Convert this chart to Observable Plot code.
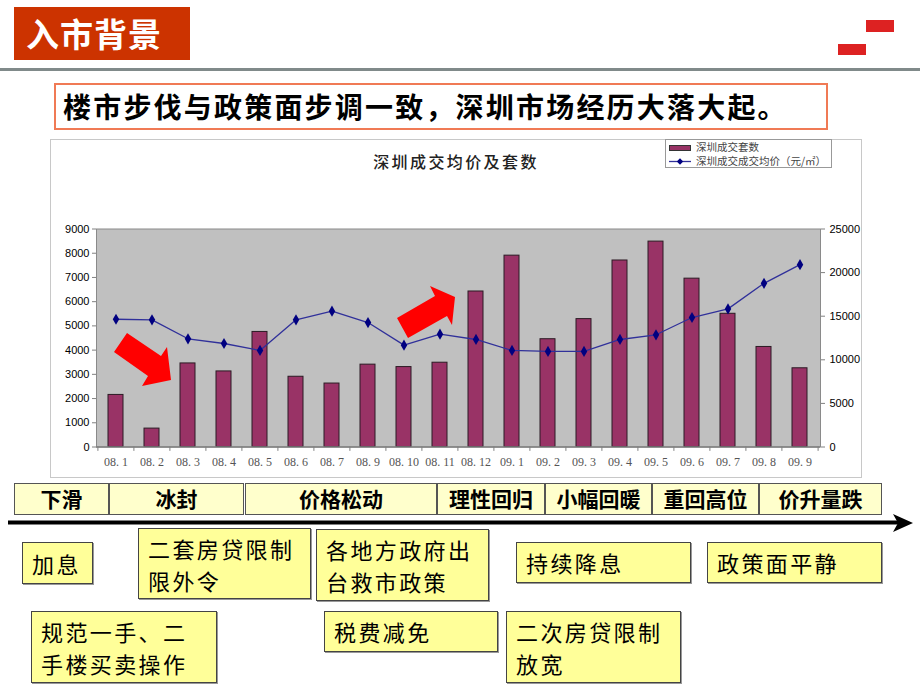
<!DOCTYPE html>
<html><head><meta charset="utf-8">
<script src="https://cdn.jsdelivr.net/npm/d3@7"></script>
<script src="https://cdn.jsdelivr.net/npm/@observablehq/plot@0.6"></script>
<style>
body{margin:0;background:#fff;font-family:"Noto Sans CJK SC","Noto Sans",sans-serif;}
#page{position:relative;width:920px;height:690px;overflow:hidden;background:#fff;}
.abs{position:absolute;box-sizing:border-box;}
#hdr{left:14px;top:7px;width:176px;height:53px;background:#cc3300;color:#fff;font-size:33px;font-weight:700;line-height:53px;padding-left:12px;letter-spacing:1px;}
#hline{left:0;top:68px;width:920px;height:3px;background:#808a8a;}
.sq{background:#dd2222;}
#sub{left:54px;top:83px;width:774px;height:47px;border:2px solid #f07a55;font-size:28px;font-weight:700;line-height:43px;padding-left:7px;letter-spacing:2.2px;color:#000;white-space:nowrap;}
#frame{left:50px;top:139px;width:812px;height:339px;border:1.5px solid #c8c8c8;}
#chart{left:50px;top:139px;}
#ctitle{left:300px;top:150px;width:312px;text-align:center;font-size:16px;font-weight:500;letter-spacing:2.4px;color:#222;line-height:22px;}
#legend{left:665px;top:139px;width:167px;height:29px;border:1px solid #999;background:#fff;font-size:10.5px;color:#444;}
.phase{top:483px;height:32px;background:#ffffcc;border:1.5px solid #555;font-size:21px;font-weight:700;text-align:center;line-height:29px;color:#000;}
.note{background:#ffff99;border:1.5px solid #444;font-size:22px;padding:3px 0 0 9px;letter-spacing:2.4px;color:#000;white-space:nowrap;box-shadow:1px 1px 0 #999;}
.note div{height:32px;line-height:32px;}
</style></head><body><div id="page"></div>
<script>
// ---- chart data ----
const months = ["08. 1","08. 2","08. 3","08. 4","08. 5","08. 6","08. 7","08. 9","08. 10","08. 11","08. 12","09. 1","09. 2","09. 3","09. 4","09. 5","09. 6","09. 7","09. 8","09. 9"];
const units  = [2150, 760, 3450, 3120, 4750, 2900, 2620, 3400, 3300, 3480, 6420, 7900, 4450, 5280, 7700, 8480, 6950, 5500, 4130, 3250];
const prices = [14650, 14580, 12410, 11870, 11070, 14580, 15570, 14270, 11680, 12940, 12330, 11070, 10960, 10960, 12330, 12870, 14850, 15840, 18770, 20910];
const leftTicks  = [0,1000,2000,3000,4000,5000,6000,7000,8000,9000];
const rightTicks = [0,5000,10000,15000,20000,25000];
const chartTitle = "深圳成交均价及套数";
const seriesNames = ["深圳成交套数","深圳成交成交均价（元/㎡）"];

// ---- slide text ----
const headerText = "入市背景";
const subtitleText = "楼市步伐与政策面步调一致，深圳市场经历大落大起。";
const phases = ["下滑","冰封","价格松动","理性回归","小幅回暖","重回高位","价升量跌"];
const notes = [["加息"],["二套房贷限制","限外令"],["各地方政府出","台救市政策"],["持续降息"],["政策面平静"],["规范一手、二","手楼买卖操作"],["税费减免"],["二次房贷限制","放宽"]];

// ---- layout (positions only) ----
const phaseX = [[14,109],[109,244],[245,437],[437,545],[545,652],[652,759],[759,882]];
const noteBox = [[22,542,71,42],[138,528,173,71],[316,529,173,72],[516,542,175,41],[707,542,175,41],[31,611,186,72],[324,611,174,41],[506,611,175,72]];

const page = document.getElementById("page");
function el(cls, id, css, html){const d=document.createElement("div");d.className="abs "+(cls||"");if(id)d.id=id;if(css)d.style.cssText=css;if(html!=null)d.innerHTML=html;page.appendChild(d);return d;}

el("", "hdr", null, headerText);
el("", "hline");
el("sq", null, "left:866px;top:20px;width:28px;height:12px;");
el("sq", null, "left:838px;top:44px;width:28px;height:11px;");
el("", "sub", null, subtitleText);
el("", "frame");

// ---- Plot chart ----
const k = 9000/25000;
const data = months.map((m,i)=>({month:m, units:units[i], price:prices[i]}));
const step = 724/months.length;
const chart = Plot.plot({
  width:812, height:339,
  marginLeft:46, marginRight:42, marginTop:89.5, marginBottom:31.5,
  style:{background:"transparent", overflow:"visible", fontFamily:"'Liberation Sans', Arial, sans-serif", color:"#000"},
  x:{domain:months, paddingInner:0.58, paddingOuter:0.29, axis:null, label:null},
  y:{domain:[0,9000], axis:null, label:null},
  marks:[
    Plot.frame({fill:"#c0c0c0", stroke:"#8a8a8a"}),
    Plot.barY(data,{x:"month", y:"units", fill:"#993366", stroke:"#2b1b24", strokeWidth:1}),
    Plot.line(data,{x:"month", y:d=>d.price*k, stroke:"#30309a", strokeWidth:1.3}),
    Plot.dot(data,{x:"month", y:d=>d.price*k, symbol:"diamond", r:3.4, fill:"#000080", stroke:"none"}),
    Plot.ruleY([0],{stroke:"#808080", strokeWidth:1.5}),
    Plot.ruleX(months,{x:d=>d, y1:0, y2:-180, dx:-step/2, stroke:"#808080"}),
    Plot.ruleX([months[months.length-1]],{x:d=>d, y1:0, y2:-180, dx:step/2, stroke:"#808080"}),
    Plot.axisY(leftTicks,{anchor:"left", label:null, tickSize:4, tickPadding:3, fontSize:11, tickFormat:d=>String(d), stroke:"#808080"}),
    Plot.axisY(rightTicks.map(v=>v*k),{anchor:"right", label:null, tickSize:4, tickPadding:5, fontSize:11, tickFormat:v=>String(Math.round(v/k)), stroke:"#808080"}),
    Plot.axisX({label:null, tickSize:0, tickPadding:10, fontSize:12, fontFamily:"'Liberation Serif', serif", fill:"#555"})
  ]
});
const holder = el("", "chart");
holder.appendChild(chart);

el("", "ctitle", null, chartTitle);

// legend
const lg = el("", "legend");
lg.innerHTML = `<svg width="167" height="29" style="position:absolute;left:0;top:0">
<rect x="3.5" y="5.5" width="21" height="5" fill="#993366" stroke="#333"/>
<line x1="3" x2="25" y1="21.5" y2="21.5" stroke="#30309a" stroke-width="1.3"/>
<path d="M14 18.3 L17.2 21.5 L14 24.7 L10.8 21.5Z" fill="#000080"/>
</svg>
<div style="position:absolute;left:30px;top:0px;line-height:14px;white-space:nowrap">${seriesNames[0]}</div>
<div style="position:absolute;left:30px;top:14px;line-height:14px;white-space:nowrap">${seriesNames[1]}</div>`;

// red decorative arrows on chart + timeline arrow
const ov = document.createElementNS("http://www.w3.org/2000/svg","svg");
ov.setAttribute("width","920");ov.setAttribute("height","690");
ov.style.cssText="position:absolute;left:0;top:0;pointer-events:none";
ov.innerHTML = `<polygon points="127,333 161,356 167,347 171,380 142,386 148,376 114,352" fill="#ff0000"/>
<polygon points="397,318 435,296 430,286 455,297 452,325 447,316 408,338" fill="#ff0000"/>
<line x1="8" y1="522.5" x2="898" y2="522.5" stroke="#000" stroke-width="4"/>
<polygon points="893,514 913,523 893,532 898,523" fill="#000"/>`;
page.appendChild(ov);

// timeline phases
phases.forEach((p,i)=>{
  const [x0,x1]=phaseX[i];
  el("phase", null, `left:${x0}px;width:${x1-x0}px;`, p);
});
// notes
notes.forEach((n,i)=>{
  const [x,y,w,h]=noteBox[i];
  const single = n.length===1;
  const d = el("note", null, `left:${x}px;top:${y}px;width:${w}px;height:${h}px;` + (single?`padding-top:${(h-35)/2}px;`:""));
  n.forEach(line=>{const r=document.createElement("div");r.textContent=line;d.appendChild(r);});
});
</script></body></html>
